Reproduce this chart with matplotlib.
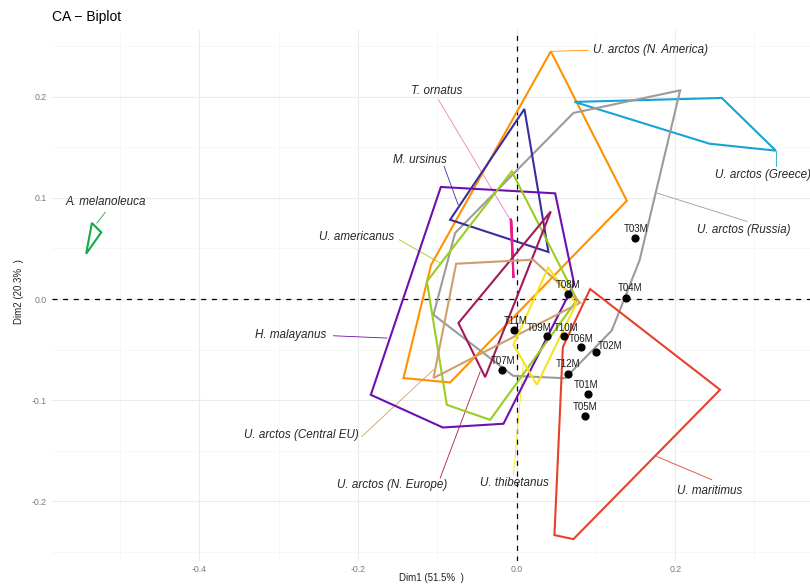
import matplotlib
matplotlib.use("Agg")
import matplotlib.pyplot as plt
from matplotlib.ticker import MultipleLocator

# species hulls (CA column coordinates, Dim1 / Dim2)
species = ["A. melanoleuca", "U. arctos (N. America)", "U. arctos (Greece)",
           "U. arctos (Russia)", "M. ursinus", "H. malayanus", "U. americanus",
           "T. ornatus", "U. arctos (N. Europe)", "U. arctos (Central EU)",
           "U. thibetanus", "U. maritimus"]
colors = ["#17A84B", "#FF9100", "#16A3D6", "#9B9B9B", "#3B2CA0", "#6E0FB0",
          "#9ACD1E", "#E8198B", "#A3195B", "#CDA06B", "#F5E41C", "#E8412A"]

hull_x = [
    [-0.5357, -0.5239, -0.5429],
    [0.0431, 0.1390, -0.0839, -0.1427, -0.1078],
    [0.0729, 0.2588, 0.3269, 0.2431],
    [0.2062, 0.1551, 0.1200, 0.0612, -0.0044, -0.1049, -0.0776, 0.0716],
    [0.0098, 0.0401, -0.0839],
    [-0.0956, 0.0486, 0.0725, -0.0166, -0.0931, -0.1839],
    [-0.0061, 0.0763, -0.0334, -0.0880, -0.1132],
    [-0.0076, -0.0040, -0.0063],
    [0.0431, -0.0734, -0.0397],
    [-0.0763, 0.0208, 0.0801, -0.1049],
    [0.0397, 0.0750, 0.0255, -0.0040],
    [0.0927, 0.2566, 0.0716, 0.0477, 0.0583],
]
hull_y = [
    [0.0752, 0.0659, 0.0448],
    [0.2449, 0.0972, -0.0825, -0.0781, 0.0339],
    [0.1949, 0.1988, 0.1467, 0.1536],
    [0.2063, 0.0384, -0.0311, -0.0783, -0.0759, -0.0155, 0.0653, 0.1840],
    [0.1879, 0.0465, 0.0784],
    [0.1108, 0.1045, 0.0151, -0.1233, -0.1270, -0.0947],
    [0.1262, -0.0007, -0.1194, -0.1046, 0.0174],
    [0.0794, 0.0208, 0.0765],
    [0.0866, -0.0237, -0.0772],
    [0.0349, 0.0389, -0.0037, -0.0781],
    [0.0310, -0.0046, -0.0848, -0.0452],
    [0.0099, -0.0897, -0.2374, -0.2334, -0.0475],
]

# samples (CA row coordinates)
samples = ["T01M", "T02M", "T03M", "T04M", "T05M", "T06M",
           "T07M", "T08M", "T09M", "T10M", "T11M", "T12M"]
dim1 = [0.0902, 0.1003, 0.1494, 0.1377, 0.0868, 0.0810,
        -0.0179, 0.0646, 0.0381, 0.0599, -0.0032, 0.0646]
dim2 = [-0.0934, -0.0524, 0.0599, 0.0010, -0.1157, -0.0475,
        -0.0699, 0.0049, -0.0363, -0.0370, -0.0304, -0.0739]

# repelled label layout: text centre, segment start (on hull), segment end
label_xy = [(-0.5183, 0.0955), (0.1690, 0.2459), (0.3102, 0.1223),
            (0.2865, 0.0685), (-0.1217, 0.1378), (-0.2844, -0.0353),
            (-0.2024, 0.0613), (-0.1003, 0.2053), (-0.1564, -0.1837),
            (-0.2714, -0.1342), (-0.0032, -0.1814), (0.2440, -0.1896)]
seg_from = [(-0.5294, 0.0752), (0.0431, 0.2449), (0.3269, 0.1467),
            (0.1768, 0.1048), (-0.0738, 0.0933), (-0.1637, -0.0386),
            (-0.0965, 0.0356), (-0.0082, 0.0784), (-0.0460, -0.0719),
            (-0.1049, -0.0699), (0.0086, -0.0630), (0.1768, -0.1557)]
seg_to = [(-0.5189, 0.0857), (0.0902, 0.2459), (0.3269, 0.1318),
          (0.2903, 0.0768), (-0.0914, 0.1309), (-0.2310, -0.0363),
          (-0.1482, 0.0587), (-0.0986, 0.1971), (-0.0965, -0.1771),
          (-0.1952, -0.1359), (-0.0040, -0.1738), (0.2462, -0.1787)]
seg_colors = colors[:]
seg_colors[7] = "#F27DB9"

sample_label_xy = [(0.0873, -0.0845), (0.1179, -0.0462), (0.1503, 0.0692),
                   (0.1431, 0.0105), (0.0864, -0.1068), (0.0813, -0.0396),
                   (-0.0166, -0.0613), (0.0653, 0.0135), (0.0288, -0.0284),
                   (0.0624, -0.0284), (-0.0006, -0.0222), (0.0653, -0.0647)]

narrow = ["Liberation Sans Narrow", "Liberation Sans", "DejaVu Sans"]
plain = ["Liberation Sans", "DejaVu Sans"]

fig = plt.figure(figsize=(8.10, 5.86), dpi=100)
ax = fig.add_axes([52 / 810, 25 / 586, 758 / 810, 531 / 586])

ax.set_xlim(-0.586, 0.370)
ax.set_ylim(-0.259, 0.266)
ax.xaxis.set_major_locator(MultipleLocator(0.2))
ax.xaxis.set_minor_locator(MultipleLocator(0.1))
ax.yaxis.set_major_locator(MultipleLocator(0.1))
ax.yaxis.set_minor_locator(MultipleLocator(0.05))
ax.grid(which="major", color="#EBEBEB", lw=0.8)
ax.grid(which="minor", color="#F4F4F4", lw=0.5)
ax.set_axisbelow(True)
for s in ax.spines.values():
    s.set_visible(False)
ax.tick_params(which="both", length=0, labelsize=6.3, labelcolor="#7A7A7A")
ax.tick_params(axis="x", pad=3)
ax.tick_params(axis="y", pad=4)
ax.set_xticks([-0.4, -0.2, 0.0, 0.2])
ax.set_xticklabels(["-0.4", "-0.2", "0.0", "0.2"], family=narrow)
ax.set_yticks([-0.2, -0.1, 0.0, 0.1, 0.2])
ax.set_yticklabels(["-0.2", "-0.1", "0.0", "0.1", "0.2"], family=narrow)

ax.axhline(0, color="black", lw=0.9, ls=(0, (4, 4.5)), zorder=1)
ax.axvline(0, color="black", lw=0.9, ls=(0, (4, 4.5)), zorder=1)

for xs, ys, c in zip(hull_x, hull_y, colors):
    ax.fill(xs, ys, facecolor="none", edgecolor=c, lw=1.5, zorder=3)

for (x0, y0), (x1, y1), c in zip(seg_from, seg_to, seg_colors):
    ax.plot([x0, x1], [y0, y1], color=c, lw=0.6, zorder=2)

for name, (tx, ty) in zip(species, label_xy):
    ax.text(tx, ty, name, ha="center", va="center", style="italic",
            fontsize=8.4, color="#262626", family=plain, zorder=5)

ax.scatter(dim1, dim2, s=24, color="black", zorder=6)
for name, (tx, ty) in zip(samples, sample_label_xy):
    ax.text(tx, ty, name, ha="center", va="center", fontsize=7,
            color="#1A1A1A", family=narrow, zorder=6)

fig.text(52 / 810, 1 - 17 / 586, "CA \u2212 Biplot", ha="left", va="center",
         fontsize=10, color="black", family=narrow)
fig.text(431 / 810, 1 - 578 / 586, "Dim1 (51.5%  )", ha="center", va="center",
         fontsize=7, color="#222222", family=narrow)
fig.text(19 / 810, 1 - 292 / 586, "Dim2 (20.3%  )", ha="center", va="center",
         rotation=90, fontsize=7, color="#222222", family=narrow)

fig.savefig("out.png", dpi=100, facecolor="white")
